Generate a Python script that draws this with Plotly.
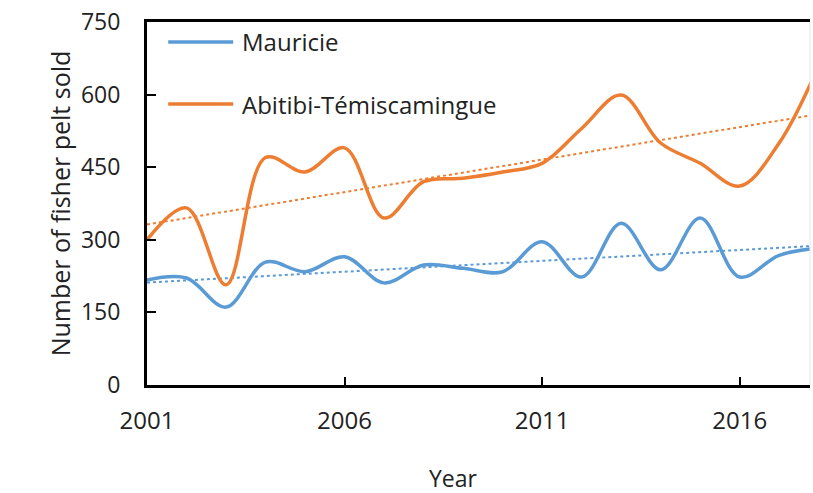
import plotly.graph_objects as go
import numpy as np

years = list(range(2001, 2019))
mauricie = [217, 221, 161, 254, 234, 265, 211, 248, 241, 234, 296, 223, 334, 238, 345, 223, 268, 283]
abitibi = [300, 366, 207, 470, 440, 490, 345, 420, 427, 440, 458, 530, 599, 500, 458, 411, 500, 660]
series_names = ["Mauricie", "Abitibi-Témiscamingue"]
y_ticks = [0, 150, 300, 450, 600, 750]
x_ticks = [2001, 2006, 2011, 2016]

blue = "#5B9BD5"
orange = "#ED7D31"
font_family = "Open Sans, Lato, sans-serif"
text_color = "#222"

fig = go.Figure()

x = np.array(years, dtype=float)
for vals, col in [(mauricie, blue), (abitibi, orange)]:
    k, b = np.polyfit(x, np.array(vals, dtype=float), 1)
    fig.add_trace(go.Scatter(x=years, y=list(k * x + b), mode="lines",
                             line=dict(color=col, width=2, dash="dot"),
                             showlegend=False, hoverinfo="skip"))

for name, vals, col in [(series_names[0], mauricie, blue), (series_names[1], abitibi, orange)]:
    fig.add_trace(go.Scatter(x=years, y=vals, mode="lines", name=name,
                             line=dict(color=col, width=3.5, shape="spline", smoothing=1.0),
                             showlegend=False))

# manual legend (long line samples as in reference)
legend_rows = [(series_names[0], blue, 0.945), (series_names[1], orange, 0.774)]
shapes = []
annotations = []
for name, col, yy in legend_rows:
    shapes.append(dict(type="line", xref="paper", yref="paper", x0=0.032, x1=0.130, y0=yy, y1=yy,
                       line=dict(color=col, width=3.5)))
    annotations.append(dict(xref="paper", yref="paper", x=0.140, y=yy, text=name, showarrow=False,
                            xanchor="left", yanchor="middle",
                            font=dict(family=font_family, size=24, color=text_color)))

# faint right border
shapes.append(dict(type="line", xref="paper", yref="paper", x0=1, x1=1, y0=0, y1=1,
                   line=dict(color="#e6e6e6", width=1)))

annotations.append(dict(xref="paper", yref="paper", x=0.463, y=-0.256, text="Year", showarrow=False,
                        xanchor="center", yanchor="middle",
                        font=dict(family=font_family, size=23, color=text_color)))

fig.update_layout(
    width=813, height=493,
    margin=dict(l=147, r=3, t=22, b=108),
    plot_bgcolor="white", paper_bgcolor="white",
    shapes=shapes, annotations=annotations,
    font=dict(family=font_family, size=24, color=text_color),
    xaxis=dict(range=[2001, 2017.78], tickmode="array", tickvals=x_ticks,
               ticktext=[str(t) for t in x_ticks],
               showline=True, linecolor="black", linewidth=3, mirror=True,
               ticks="inside", ticklen=8, tickwidth=2, tickcolor="black",
               showgrid=False, zeroline=False, ticklabelstandoff=12,
               tickfont=dict(size=24)),
    yaxis=dict(range=[0, 750], tickmode="array", tickvals=y_ticks,
               showline=True, linecolor="black", linewidth=3,
               ticks="inside", ticklen=9, tickwidth=2, tickcolor="black",
               showgrid=False, zeroline=False, ticklabelstandoff=19,
               tickfont=dict(size=23),
               title=dict(text="Number of fisher pelt sold", font=dict(size=25), standoff=4)),
)

# remove the browser's default page margin so the figure fills the window exactly
fig.write_html("out.html", config={"displayModeBar": False},
               post_script="document.body.style.margin='0';document.body.style.overflow='hidden';")
